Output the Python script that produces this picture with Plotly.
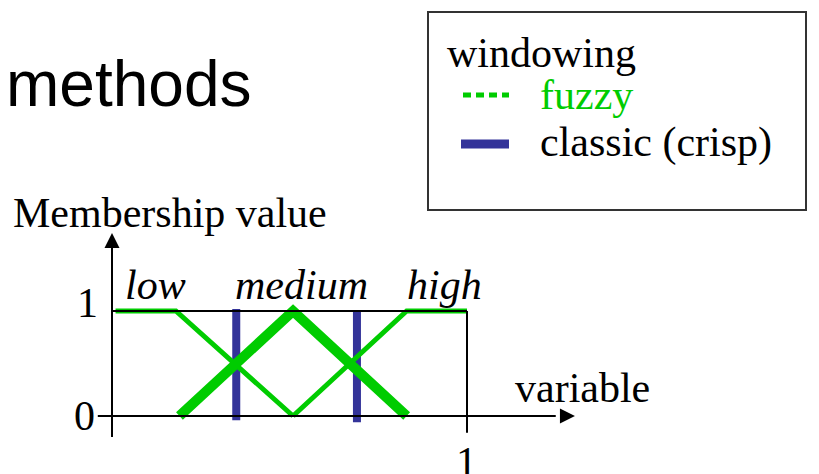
import plotly.graph_objects as go

# membership functions (fuzzy windows)
low_x = [0.01, 0.18, 0.51]
low_y = [1, 1, 0]
medium_x = [0.19, 0.51, 0.83]
medium_y = [0, 1, 0]
high_x = [0.51, 0.83, 1.0]
high_y = [0, 1, 1]

# crisp window borders
crisp_x = [0.35, 0.69]
crisp_y0 = [-0.04, -0.06]
crisp_y1 = [1.02, 0.99]

term_names = ["low", "medium", "high"]
term_x = [0.037, 0.347, 0.832]

GREEN = "#00cc00"
BLUE = "#333399"
SERIF = "Liberation Serif"
SANS = "Liberation Sans"
OFF = 8  # page body margin
W, H = 819 - OFF, 474 - OFF


def px(x):
    return (x - OFF) / W


def py(y):
    return 1 - (y - OFF) / H


def main():
    x0, y0 = 112 - OFF, 416 - OFF  # origin in figure pixels
    layout = {
        "width": W,
        "height": H,
        "margin": {"l": 0, "r": 0, "t": 0, "b": 0},
        "paper_bgcolor": "white",
        "plot_bgcolor": "white",
        "showlegend": False,
        "xaxis": {"visible": False, "range": [-x0 / 355, (W - x0) / 355]},
        "yaxis": {"visible": False, "range": [-(H - y0) / 105, y0 / 105]},
    }
    fig = go.Figure(layout=layout)

    # axes with arrows
    fig.add_shape(type="line", x0=0, x1=0, y0=-0.2, y1=1.62, line={"color": "black", "width": 2})
    fig.add_shape(type="line", x0=-0.04, x1=1.25, y0=0, y1=0, line={"color": "black", "width": 2})
    fig.add_scatter(x=[0], y=[1.743], mode="markers", hoverinfo="skip",
                    marker={"symbol": "arrow-up", "size": 15, "color": "black", "line": {"width": 0}})
    fig.add_scatter(x=[1.304], y=[0], mode="markers", hoverinfo="skip",
                    marker={"symbol": "arrow-right", "size": 15, "color": "black", "line": {"width": 0}})

    # window frame
    fig.add_shape(type="line", x0=0, x1=1, y0=1, y1=1, line={"color": "black", "width": 2})
    fig.add_shape(type="line", x0=1, x1=1, y0=-0.16, y1=1, line={"color": "black", "width": 2})

    # crisp borders
    for cx, c0, c1 in zip(crisp_x, crisp_y0, crisp_y1):
        fig.add_scatter(x=[cx, cx], y=[c0, c1], mode="lines", line={"color": BLUE, "width": 8})

    # fuzzy sets
    fig.add_scatter(x=low_x, y=low_y, mode="lines", line={"color": GREEN, "width": 5})
    fig.add_scatter(x=high_x, y=high_y, mode="lines", line={"color": GREEN, "width": 5})
    fig.add_scatter(x=medium_x, y=medium_y, mode="lines", line={"color": GREEN, "width": 10})

    serif = {"family": SERIF, "color": "black"}

    def label(text, x, baseline, anchor="left", font=None, size=42):
        f = dict(font or serif)
        f["size"] = size
        fig.add_annotation(text=text, xref="paper", yref="paper", x=px(x), y=py(baseline - 0.36 * size),
                           xanchor=anchor, yanchor="middle", showarrow=False, font=f)

    for name, tx in zip(term_names, term_x):
        label(f"<i>{name}</i>", 112 + tx * 355 - 2, 300)

    label("methods", 4, 107, font={"family": SANS, "color": "black"}, size=64)
    label("Membership value", 11, 228)
    label("1", 100, 318, anchor="right")
    label("0", 97, 431, anchor="right")
    label("1", 466, 477, anchor="center")
    label("variable", 513, 403)

    # legend box
    fig.add_shape(type="rect", xref="paper", yref="paper", x0=px(428), x1=px(806), y0=py(12), y1=py(210),
                  line={"color": "#333333", "width": 2})
    fig.add_shape(type="line", xref="paper", yref="paper", x0=px(463), x1=px(509), y0=py(95), y1=py(95),
                  line={"color": GREEN, "width": 5, "dash": "8px,5px"})
    fig.add_shape(type="line", xref="paper", yref="paper", x0=px(461), x1=px(509), y0=py(144), y1=py(144),
                  line={"color": BLUE, "width": 9})
    label("windowing", 445, 68)
    label("fuzzy", 538, 110, font={"family": SERIF, "color": GREEN})
    label("classic (crisp)", 538, 158)

    fig.write_html("out.html")


if __name__ == "__main__":
    main()
